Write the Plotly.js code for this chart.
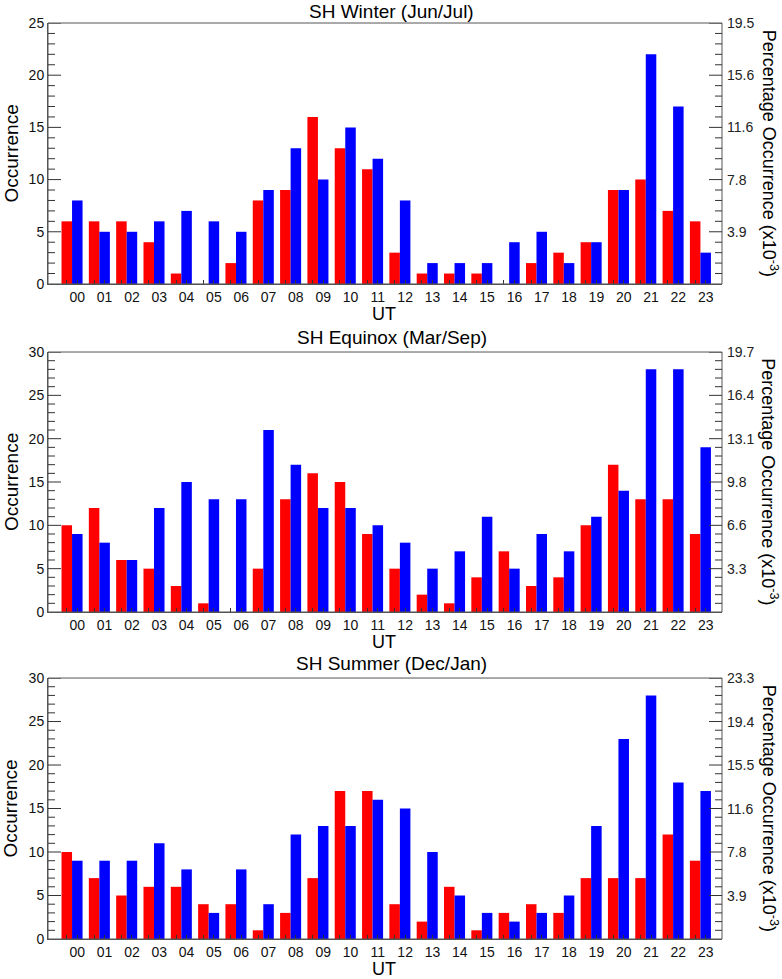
<!DOCTYPE html>
<html>
<head>
<meta charset="utf-8">
<script src="https://cdn.plot.ly/plotly-3.0.1.min.js"></script>
<style>
  html, body { margin: 0; padding: 0; background: #fff; }
  #chart { width: 782px; height: 979px; }
</style>
</head>
<body>
<div id="chart"></div>
<script>
// UT hour bins
const hours = ["00", "01", "02", "03", "04", "05", "06", "07", "08", "09", "10", "11",
               "12", "13", "14", "15", "16", "17", "18", "19", "20", "21", "22", "23"];

const panelTitles = ["SH Winter (Jun/Jul)", "SH Equinox (Mar/Sep)", "SH Summer (Dec/Jan)"];

// occurrence counts, red / blue series per season
const winterRed   = [6, 6, 6, 4, 1, 0, 2, 8, 9, 16, 13, 11, 3, 1, 1, 1, 0, 2, 3, 4, 9, 10, 7, 6];
const winterBlue  = [8, 5, 5, 6, 7, 6, 5, 9, 13, 10, 15, 12, 8, 2, 2, 2, 4, 5, 2, 4, 9, 22, 17, 3];
const equinoxRed  = [10, 12, 6, 5, 3, 1, 0, 5, 13, 16, 15, 9, 5, 2, 1, 4, 7, 3, 4, 10, 17, 13, 13, 9];
const equinoxBlue = [9, 8, 6, 12, 15, 13, 13, 21, 17, 12, 12, 10, 8, 5, 7, 11, 5, 9, 7, 11, 14, 28, 28, 19];
const summerRed   = [10, 7, 5, 6, 6, 4, 4, 1, 3, 7, 17, 17, 4, 2, 6, 1, 3, 4, 3, 7, 7, 7, 12, 9];
const summerBlue  = [9, 9, 9, 11, 8, 3, 8, 4, 12, 13, 13, 16, 15, 10, 5, 3, 2, 3, 5, 13, 23, 28, 18, 17];

// left axis maximum and right-axis (percentage, x10^-3) tick labels
const occurrenceMax   = [25, 30, 30];
const occurrenceStep  = 5;
const winterPctTicks  = ["3.9", "7.8", "11.6", "15.6", "19.5"];
const equinoxPctTicks = ["3.3", "6.6", "9.8", "13.1", "16.4", "19.7"];
const summerPctTicks  = ["3.9", "7.8", "11.6", "15.5", "19.4", "23.3"];

const FONT = "Liberation Sans, Arial, Helvetica, sans-serif";
const LINE = "#333";
const FRAME = "#555";

const panels = [
  { title: panelTitles[0], red: winterRed,  blue: winterBlue,  ymax: occurrenceMax[0], pct: winterPctTicks,  domain: [0.7151, 1] },
  { title: panelTitles[1], red: equinoxRed, blue: equinoxBlue, ymax: occurrenceMax[1], pct: equinoxPctTicks, domain: [0.3570, 0.6408] },
  { title: panelTitles[2], red: summerRed,  blue: summerBlue,  ymax: occurrenceMax[2], pct: summerPctTicks,  domain: [0, 0.2849] },
];

const xs = hours.map((h, i) => i);
const halfBar = 0.1925;       // bar centre offset inside a group
const plotWidth = 782 - 48 - 60;

const data = [];
const annotations = [];
const shapes = [];
const layout = {
  width: 782,
  height: 979,
  margin: { l: 48, r: 60, t: 23, b: 40 },
  barmode: "group",
  bargap: 0.23,
  bargroupgap: 0,
  showlegend: false,
  font: { family: FONT, color: "#111" },
};

panels.forEach((p, i) => {
  const xRef = i === 0 ? "x" : "x" + (i + 1);
  const yRef = i === 0 ? "y" : "y" + (i + 1);

  data.push({
    type: "bar", x: xs, y: p.red, xaxis: xRef, yaxis: yRef,
    marker: { color: "#ff0000", line: { width: 0 } }, hoverinfo: "skip",
  });
  data.push({
    type: "bar", x: xs, y: p.blue, xaxis: xRef, yaxis: yRef,
    marker: { color: "#0000ff", line: { width: 0 } }, hoverinfo: "skip",
  });

  // ticks under both bars of a group, label only under the blue one
  layout["xaxis" + (i === 0 ? "" : i + 1)] = {
    domain: [0, 1],
    anchor: yRef,
    range: [-0.88, 23.79],
    tickmode: "array",
    tickvals: xs.flatMap(v => [v - halfBar, v + halfBar]),
    ticktext: hours.flatMap(h => ["", h]),
    ticks: "inside", ticklen: 4, tickwidth: 1, tickcolor: LINE,
    showline: true, linecolor: FRAME, linewidth: 1,
    showgrid: false, zeroline: false,
    tickfont: { family: FONT, size: 14, color: "#111" },
  };

  layout["yaxis" + (i === 0 ? "" : i + 1)] = {
    domain: p.domain,
    anchor: xRef,
    range: [0, p.ymax],
    dtick: occurrenceStep,
    ticks: "",
    showline: true, linecolor: FRAME, linewidth: 1,
    showgrid: false, zeroline: false,
    tickfont: { family: FONT, size: 14, color: "#111" },
  };

  // plot frame
  shapes.push({
    type: "rect", xref: xRef + " domain", yref: yRef + " domain",
    x0: 0, x1: 1, y0: 0, y1: 1, line: { color: FRAME, width: 1 }, fillcolor: "rgba(0,0,0,0)",
  });

  // inward ticks on both sides: every unit, longer every step
  for (let k = 1; k <= p.ymax; k++) {
    const len = (k % occurrenceStep === 0 ? 13 : 7) / plotWidth;
    shapes.push({
      type: "line", xref: xRef + " domain", yref: yRef,
      x0: 0, x1: len, y0: k, y1: k, line: { color: LINE, width: 1 },
    });
    shapes.push({
      type: "line", xref: xRef + " domain", yref: yRef,
      x0: 1 - len, x1: 1, y0: k, y1: k, line: { color: LINE, width: 1 },
    });
  }

  // right-hand percentage labels
  p.pct.forEach((t, j) => {
    annotations.push({
      text: t, xref: xRef + " domain", yref: yRef, x: 1, y: (j + 1) * occurrenceStep,
      xanchor: "left", yanchor: "middle", xshift: 3, showarrow: false,
      font: { family: FONT, size: 14, color: "#222" },
    });
  });

  const mid = (p.domain[0] + p.domain[1]) / 2;

  annotations.push({
    text: p.title, xref: "paper", yref: "paper", x: 0.510, y: p.domain[1],
    yshift: i === 0 ? 12 : 15, xanchor: "center", yanchor: "middle", showarrow: false,
    font: { family: FONT, size: 19, color: "#000" },
  });
  annotations.push({
    text: "Occurrence", xref: "paper", yref: "paper", x: -0.0549, y: mid,
    xanchor: "center", yanchor: "middle", textangle: -90, showarrow: false,
    font: { family: FONT, size: 19, color: "#000" },
  });
  annotations.push({
    text: "Percentage Occurrence (x10<sup>-3</sup>)", xref: "paper", yref: "paper", x: 1.071, y: mid,
    xanchor: "center", yanchor: "middle", textangle: 90, showarrow: false,
    font: { family: FONT, size: 18, color: "#000" },
  });
  annotations.push({
    text: "UT", xref: "paper", yref: "paper", x: 0.4985, y: p.domain[0],
    yshift: -30, xanchor: "center", yanchor: "middle", showarrow: false,
    font: { family: FONT, size: 18, color: "#000" },
  });
});

layout.annotations = annotations;
layout.shapes = shapes;

Plotly.newPlot("chart", data, layout, { displayModeBar: false, staticPlot: true });
</script>
</body>
</html>
